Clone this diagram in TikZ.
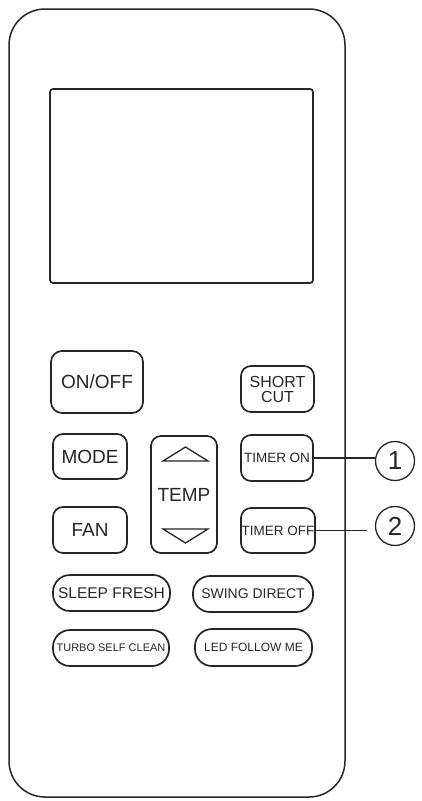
\documentclass[tikz,border=0pt]{standalone}
\usepackage{fontspec}
\setmainfont{Liberation Sans}
\usetikzlibrary{positioning}
\newcommand{\fsz}[1]{\fontsize{#1}{#1}\selectfont}

\begin{document}
\begin{tikzpicture}[x=1pt,y=-1pt,
  btn/.style={rectangle,rounded corners=11pt,draw=black!85,line width=1.7pt,inner sep=0pt,align=center,text=black!85},
  pill/.style={rectangle,rounded corners=17pt,draw=black!85,line width=1.7pt,inner sep=0pt,minimum height=36pt,text=black!85},
  num/.style={circle,draw=black!85,line width=1.3pt,minimum size=39pt,inner sep=0pt,font=\fsz{26},text=black!85},
  tri/.style={line width=1.3pt,black!85,line join=miter},
  lk/.style={line width=1.1pt,black!85}
]
  \useasboundingbox (0,0) rectangle (421,801);
  % body and screen
  \draw[line width=1.5pt,black!85,rounded corners=36pt] (9,9) rectangle (345,797);
  \draw[line width=1.7pt,black!85,rounded corners=3pt] (50,89) rectangle (313,283);

  % upper keys
  \node[btn,minimum width=92pt,minimum height=62pt,font=\fsz{19}] (onoff) at (97,382) {ON/OFF};
  \node[btn,minimum width=73pt,minimum height=46pt,font=\fsz{16},rounded corners=10pt] (short) at (277.5,389) {SHORT\\[-1pt]CUT};
  \node[btn,minimum width=74pt,minimum height=45pt,font=\fsz{19},rounded corners=10pt] (mode) at (90,456.5) {MODE};
  \node[btn,minimum width=66pt,minimum height=117pt,font=\fsz{19},rounded corners=10pt] (temp) at (184,494.5) {TEMP};
  \node[btn,minimum width=72pt,minimum height=46pt,font=\fsz{13.5},rounded corners=10pt] (ton) at (277,458) {TIMER ON};
  \node[btn,minimum width=74pt,minimum height=46pt,font=\fsz{19},rounded corners=10pt] (fan) at (90,530) {FAN};
  \node[btn,minimum width=74pt,minimum height=45pt,font=\fsz{13.5},rounded corners=10pt] (toff) at (278,530.5) {TIMER OFF};

  % arrows of TEMP
  \draw[tri] (163,461) -- (185.5,447) -- (208,461) -- cycle;
  \draw[tri] (163,529) -- (185.5,543) -- (208,529) -- cycle;

  % pill keys
  \node[pill,minimum width=117pt,font=\fsz{15.5}] (sleep) at (111.5,593) {SLEEP FRESH};
  \node[pill,minimum width=120pt,font=\fsz{14}] (swing) at (253,594) {SWING DIRECT};
  \node[pill,minimum width=116pt,font=\fsz{11}] (turbo) at (111,648) {TURBO SELF CLEAN};
  \node[pill,minimum width=117pt,minimum height=37pt,font=\fsz{12}] (led) at (253.5,647.5) {LED FOLLOW ME};

  % callouts
  \node[num] (c1) at (395,461) {1};
  \node[num] (c2) at (395,526) {2};
  \draw[lk] (ton.east) -- (ton.east -| c1.west);
  \draw[lk,shorten >=8pt] (toff.east) -- (toff.east -| c2.west);
\end{tikzpicture}
\end{document}
